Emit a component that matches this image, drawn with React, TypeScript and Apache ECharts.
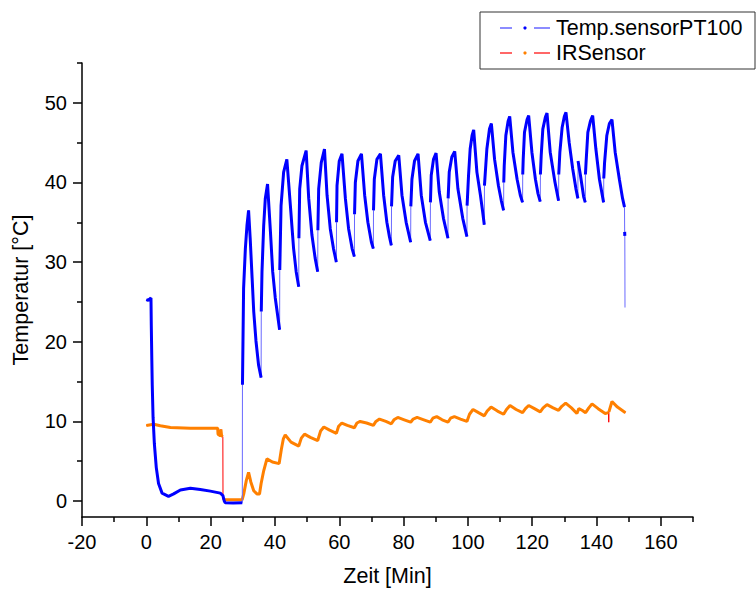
import React, { useEffect, useRef } from "react";
import * as echarts from "echarts";

const blueX = [0, 0.6, 1.45, 1.55, 1.7, 1.85, 2.1, 2.5, 3.1, 3.8, 4.9, 6.9, 8.5, 10.6, 13.7, 16.8, 19.9, 23.0, 23.8, 24.25, 24.5, 27, 29.85,
  29.9, 30.25, 30.8, 31.3, 31.8, 32.3, 32.9, 33.4, 34.1, 34.9, 35.7,
  35.75, 35.97, 36.5, 37.0, 37.7, 38.6, 39.3, 40.1, 41.45,
  41.5, 41.9, 42.7, 43.7, 44.8, 45.8, 46.6, 47.4,
  47.45, 47.7, 48.4, 49.7, 50.5, 51.5, 52.5, 53.3,
  53.35, 53.6, 54.4, 55.4, 56.2, 57.2, 58.2, 59.1,
  59.15, 59.3, 60.0, 60.85, 61.9, 62.9, 64.0, 64.7,
  64.75, 65.0, 65.8, 66.9, 67.9, 68.9, 70.0, 70.6,
  70.65, 70.9, 71.7, 72.8, 73.8, 74.8, 75.6, 76.2,
  76.25, 76.6, 77.4, 78.5, 79.5, 80.8, 82.2,
  82.25, 82.6, 83.4, 84.5, 85.5, 86.8, 88.3,
  88.35, 88.6, 89.3, 90.1, 91.1, 92.4, 93.8,
  93.85, 94.2, 95.0, 95.9, 96.9, 98.4, 99.7,
  99.75, 100.2, 100.7, 101.3, 101.8, 102.8, 103.9, 104.6, 105.1,
  105.15, 105.9, 106.7, 107.3, 108.3, 109.5, 110.4, 111.1,
  111.15, 111.3, 111.8, 112.5, 113.0, 114.0, 115.3, 116.3, 117.0,
  117.05, 117.2, 117.6, 118.4, 118.9, 119.9, 121.0, 121.8, 122.5,
  122.55, 122.8, 123.3, 124.1, 124.6, 125.6, 127.0, 128.2,
  128.25, 128.6, 129.3, 130.0, 130.5, 131.5, 132.6, 133.6, 134.2,
  134.25, 135.0, 136.0, 136.5,
  136.55, 136.8, 137.3, 138.1, 138.8, 139.8, 140.9, 142.2,
  142.25, 142.5, 143.2, 144.0, 144.8, 145.8, 147.1, 148.1, 148.7,
  148.75, 148.8, 148.85];
const blueY = [25.3, 25.2, 25.5, 22.0, 18.0, 14.5, 10.5, 7.2, 4.2, 2.2, 1.0, 0.6, 0.9, 1.4, 1.6, 1.45, 1.25, 1.0, 0.7, 0.0, -0.2, -0.25, -0.2,
  14.6, 26.7, 31.7, 34.6, 36.5, 33.0, 28.0, 23.8, 20.1, 17.1, 15.5,
  23.8, 28.8, 34.6, 38.0, 39.8, 33.8, 28.8, 25.5, 21.5,
  29.0, 37.1, 41.3, 42.9, 37.1, 31.7, 28.8, 26.9,
  33.0, 39.2, 42.1, 44.0, 38.0, 33.4, 30.5, 28.8,
  34.0, 39.2, 42.5, 44.2, 38.4, 34.2, 31.7, 30.0,
  35.0, 39.6, 42.7, 43.6, 38.0, 34.2, 31.7, 30.7,
  36.0, 40.0, 42.7, 43.6, 38.4, 35.0, 32.5, 31.7,
  36.5, 40.4, 42.9, 43.6, 38.4, 35.0, 33.2, 32.1,
  37.0, 40.7, 42.7, 43.4, 38.4, 35.0, 32.5,
  37.0, 40.4, 42.7, 43.6, 38.4, 35.0, 32.7,
  37.5, 40.9, 42.9, 43.7, 38.8, 35.5, 33.0,
  38.0, 41.3, 43.2, 43.9, 39.2, 35.5, 33.2,
  37.1, 40.9, 44.2, 45.9, 46.6, 41.3, 38.4, 36.3, 34.7,
  39.6, 44.2, 46.7, 47.4, 42.9, 39.6, 37.7, 36.5,
  40.0, 42.1, 45.9, 47.7, 48.3, 43.8, 40.4, 38.4, 37.5,
  41.0, 42.9, 46.3, 47.9, 48.4, 43.8, 40.4, 38.6, 37.6,
  41.0, 43.4, 46.7, 48.2, 48.7, 43.8, 40.2, 37.7,
  41.0, 43.8, 46.9, 48.3, 48.8, 45.0, 41.7, 39.2, 38.0,
  42.7, 40.9, 38.2, 37.5,
  41.0, 42.9, 46.3, 47.7, 48.4, 44.2, 40.4, 37.5,
  40.5, 42.5, 45.9, 47.4, 47.9, 43.8, 40.4, 38.0, 36.9,
  33.8, 33.3, 24.3];

const irX = [0, 2.3, 4.35, 7.5, 13.7, 22.2, 22.3, 23.0, 23.2, 23.4, 23.8, 23.85, 29.8, 30.3, 31.1, 31.8, 32.5, 33.4, 34.4, 35.2, 35.7, 36.5, 37.5, 39.2, 41.3,
  42.0, 42.6, 43.2, 45.0, 47.4, 48.2, 49.2, 51.0, 53.3, 54.2, 55.2, 57.0, 59.1, 59.8, 60.8, 62.5, 64.7, 65.5, 66.5, 68.5, 70.6,
  71.4, 72.5, 74.5, 76.2, 77.0, 78.2, 80.2, 82.2, 83.0, 84.2, 86.3, 88.3, 89.1, 90.3, 92.0, 93.8, 94.6, 95.8, 97.7, 99.7,
  100.5, 101.6, 103.3, 105.1, 106.0, 107.2, 109.2, 111.1, 112.0, 113.1, 115.0, 117.0, 117.9, 118.9, 120.7, 122.5,
  123.4, 124.6, 126.5, 128.2, 129.2, 130.4, 132.2, 133.9, 134.5, 135.5, 136.6, 137.6, 138.6, 140.5, 142.7,
  143.75, 143.8, 143.85, 144.8, 146.5, 149.0];
const irY = [9.5, 9.65, 9.45, 9.24, 9.15, 9.15, 8.4, 8.2, 9.0, 8.2, 8.1, 0.16, 0.16, 0.9, 2.6, 3.6, 2.4, 1.3, 0.9, 0.9, 2.2, 3.8, 5.3, 4.9, 4.7,
  6.5, 7.8, 8.3, 7.4, 6.9, 7.9, 8.4, 8.0, 7.6, 8.8, 9.3, 8.9, 8.5, 9.4, 9.8, 9.5, 9.2, 9.8, 10.0, 9.8, 9.5,
  10.0, 10.3, 10.0, 9.7, 10.2, 10.5, 10.2, 9.9, 10.3, 10.5, 10.2, 9.9, 10.4, 10.6, 10.2, 9.9, 10.4, 10.6, 10.3, 10.0,
  10.9, 11.5, 11.1, 10.7, 11.3, 11.8, 11.3, 10.9, 11.5, 12.0, 11.5, 11.1, 11.6, 12.0, 11.6, 11.2,
  11.7, 12.1, 11.7, 11.4, 11.9, 12.3, 11.7, 11.0, 11.6, 11.4, 11.1, 11.7, 12.2, 11.6, 11.0,
  11.1, 9.9, 11.2, 12.5, 11.8, 11.1];

const xMajor = [-20, 0, 20, 40, 60, 80, 100, 120, 140, 160];
const xMinor = [-10, 10, 30, 50, 70, 90, 110, 130, 150, 170];
const yMajor = [0, 10, 20, 30, 40, 50];
const yMinor = [5, 15, 25, 35, 45, 55];

const FONT = "'Liberation Sans', Arial, sans-serif";

function pairs(xs: number[], ys: number[]) {
  return xs.map((x, i) => [x, ys[i]]);
}
// dense (marker) trace: break on near-vertical jumps
function dense(xs: number[], ys: number[], dyMin: number) {
  const out: any[] = [];
  for (let i = 0; i < xs.length; i++) {
    if (i > 0 && xs[i] - xs[i - 1] < 0.08 && Math.abs(ys[i] - ys[i - 1]) > dyMin) {
      out.push([(xs[i] + xs[i - 1]) / 2, "-"]);
    }
    out.push([xs[i], ys[i]]);
  }
  return out;
}

export default function App() {
  const ref = useRef<HTMLDivElement>(null);
  useEffect(() => {
    if (!ref.current) return;
    const chart = echarts.init(ref.current, undefined, { renderer: "svg" });
    const axisLine = { show: true, onZero: false, lineStyle: { color: "#000", width: 1.5 } };
    chart.setOption({
      animation: false,
      backgroundColor: "#fff",
      grid: { left: 82, right: 63, top: 63, bottom: 73 },
      xAxis: [
        {
          type: "value", min: -20, max: 170,
          name: "Zeit [Min]", nameLocation: "middle", nameGap: 48,
          nameTextStyle: { fontFamily: FONT, fontSize: 21.5, color: "#000" },
          axisLine,
          axisTick: { show: true, inside: false, length: 9, customValues: xMajor, lineStyle: { color: "#000", width: 1.5 } },
          axisLabel: { customValues: xMajor, fontFamily: FONT, fontSize: 20, color: "#000", margin: 15 },
          splitLine: { show: false },
        },
        {
          type: "value", min: -20, max: 170, position: "bottom",
          axisLine: { show: false, onZero: false },
          axisTick: { show: true, length: 5, customValues: xMinor, lineStyle: { color: "#000", width: 1.5 } },
          axisLabel: { show: false },
          splitLine: { show: false },
        },
      ],
      yAxis: [
        {
          type: "value", min: -2, max: 55,
          name: "Temperatur [°C]", nameLocation: "middle", nameGap: 50, nameRotate: 90,
          nameTextStyle: { fontFamily: FONT, fontSize: 21.5, color: "#000" },
          axisLine,
          axisTick: { show: true, length: 9, customValues: yMajor, lineStyle: { color: "#000", width: 1.5 } },
          axisLabel: { customValues: yMajor, fontFamily: FONT, fontSize: 20, color: "#000", margin: 15 },
          splitLine: { show: false },
        },
        {
          type: "value", min: -2, max: 55, position: "left",
          axisLine: { show: false, onZero: false },
          axisTick: { show: true, length: 5, customValues: yMinor, lineStyle: { color: "#000", width: 1.5 } },
          axisLabel: { show: false },
          splitLine: { show: false },
        },
      ],
      series: [
        {
          name: "IRSensor-line", type: "line", data: pairs(irX, irY), showSymbol: false,
          lineStyle: { color: "#ff0000", width: 1 }, z: 2,
        },
        {
          name: "IRSensor", type: "line", data: dense(irX, irY, 1), showSymbol: false, connectNulls: false,
          lineStyle: { color: "#ff8000", width: 3 }, z: 3,
        },
        {
          name: "PT100-line", type: "line", data: pairs(blueX, blueY), showSymbol: false,
          lineStyle: { color: "#6a6aff", width: 1 }, z: 4,
        },
        {
          name: "Temp.sensorPT100", type: "line", data: dense(blueX, blueY, 2), showSymbol: false, connectNulls: false,
          lineStyle: { color: "#0000ff", width: 3 }, z: 5,
        },
      ],
      graphic: [
        { type: "rect", shape: { x: 480, y: 12, width: 275, height: 57 }, style: { fill: "#fff", stroke: "#333", lineWidth: 1 } },
        { type: "line", shape: { x1: 500, y1: 28, x2: 512, y2: 28 }, style: { stroke: "#4040ff", lineWidth: 1.2 } },
        { type: "circle", shape: { cx: 525, cy: 28, r: 1.6 }, style: { fill: "#0000ff" } },
        { type: "line", shape: { x1: 534, y1: 28, x2: 550, y2: 28 }, style: { stroke: "#4040ff", lineWidth: 1.2 } },
        { type: "text", x: 556, y: 28, style: { text: "Temp.sensorPT100", font: `21.5px ${FONT}`, fill: "#000", verticalAlign: "middle" } },
        { type: "line", shape: { x1: 500, y1: 53, x2: 512, y2: 53 }, style: { stroke: "#ff0000", lineWidth: 1.2 } },
        { type: "circle", shape: { cx: 525, cy: 53, r: 1.6 }, style: { fill: "#ff8000" } },
        { type: "line", shape: { x1: 534, y1: 53, x2: 550, y2: 53 }, style: { stroke: "#ff0000", lineWidth: 1.2 } },
        { type: "text", x: 556, y: 53, style: { text: "IRSensor", font: `21.5px ${FONT}`, fill: "#000", verticalAlign: "middle" } },
      ],
    });
    return () => chart.dispose();
  }, []);
  return <div ref={ref} style={{ width: 756, height: 592, position: "absolute", left: 0, top: 0 }} />;
}
